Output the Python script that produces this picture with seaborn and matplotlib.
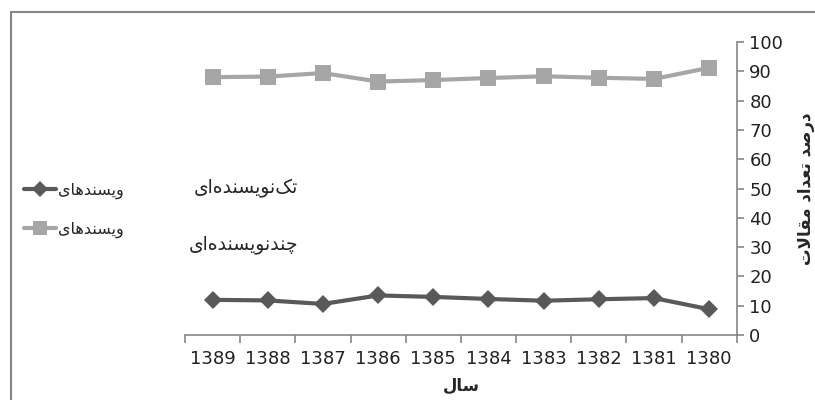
import numpy as np
import pandas as pd
import matplotlib
matplotlib.use('Agg')
import matplotlib.pyplot as plt
import seaborn as sns
from matplotlib.lines import Line2D
from matplotlib.patches import Rectangle

# داده ها
years = ['1389', '1388', '1387', '1386', '1385', '1384', '1383', '1382', '1381', '1380']
single_author = [12.0, 11.8, 10.6, 13.5, 13.0, 12.3, 11.7, 12.2, 12.6, 8.8]
multi_author = [88.0, 88.2, 89.4, 86.5, 87.0, 87.7, 88.3, 87.8, 87.4, 91.2]
yticks = list(range(0, 101, 10))

# matplotlib does no arabic shaping, so pick presentation forms by hand
FORMS = {
    'ا': ('\uFE8D', '\uFE8E', None, None),
    'ت': ('\uFE95', '\uFE96', '\uFE97', '\uFE98'),
    'چ': ('\uFB7A', '\uFB7B', '\uFB7C', '\uFB7D'),
    'د': ('\uFEA9', '\uFEAA', None, None),
    'ر': ('\uFEAD', '\uFEAE', None, None),
    'س': ('\uFEB1', '\uFEB2', '\uFEB3', '\uFEB4'),
    'ص': ('\uFEB9', '\uFEBA', '\uFEBB', '\uFEBC'),
    'ع': ('\uFEC9', '\uFECA', '\uFECB', '\uFECC'),
    'ق': ('\uFED5', '\uFED6', '\uFED7', '\uFED8'),
    'ک': ('\uFB8E', '\uFB8F', '\uFB90', '\uFB91'),
    'ل': ('\uFEDD', '\uFEDE', '\uFEDF', '\uFEE0'),
    'م': ('\uFEE1', '\uFEE2', '\uFEE3', '\uFEE4'),
    'ن': ('\uFEE5', '\uFEE6', '\uFEE7', '\uFEE8'),
    'ه': ('\uFEE9', '\uFEEA', '\uFEEB', '\uFEEC'),
    'و': ('\uFEED', '\uFEEE', None, None),
    'ی': ('\uFBFC', '\uFBFD', '\uFBFE', '\uFBFF'),
}


def dual(c):
    return c in FORMS and FORMS[c][2] is not None


def fa(s):
    out = []
    i = 0
    while i < len(s):
        c = s[i]
        if c == '\u200c':
            i += 1
            continue
        if c not in FORMS:
            out.append(c)
            i += 1
            continue
        prev = s[i - 1] if i > 0 else None
        nxt = s[i + 1] if i + 1 < len(s) else None
        p = dual(prev)
        if c == 'ل' and nxt == 'ا':
            out.append('\uFEFC' if p else '\uFEFB')
            i += 2
            continue
        n = dual(c) and nxt in FORMS
        iso, fin, ini, med = FORMS[c]
        if p and n:
            out.append(med)
        elif p:
            out.append(fin)
        elif n:
            out.append(ini)
        else:
            out.append(iso)
        i += 1
    return ''.join(reversed(out))


df = pd.DataFrame({'year': years * 2,
                   'value': single_author + multi_author,
                   'series': ['single'] * len(years) + ['multi'] * len(years)})

sns.set_style('white')
plt.rcParams['font.family'] = ['DejaVu Sans']

dark = '#595959'
light = '#a6a6a6'

fig = plt.figure(figsize=(8.15, 4), dpi=100)
ax = fig.add_axes([0.227, 0.1625, 0.677, 0.7325])

sns.lineplot(data=df[df.series == 'multi'], x='year', y='value', ax=ax, color=light,
             lw=3, marker='s', markersize=12, markeredgewidth=0, sort=False)
sns.lineplot(data=df[df.series == 'single'], x='year', y='value', ax=ax, color=dark,
             lw=3, marker='D', markersize=9, markeredgewidth=0, sort=False)

ax.set_xlim(-0.5, len(years) - 0.5)
ax.set_ylim(0, 100)
ax.yaxis.tick_right()
ax.yaxis.set_label_position('right')
ax.set_yticks(yticks)
ax.tick_params(axis='y', which='major', right=True, length=5, width=1.2, color='#868686',
               direction='out', labelsize=13, pad=4, labelcolor='#222222')
ax.set_xticks(range(len(years)))
ax.set_xticks(np.arange(-0.5, len(years), 1), minor=True)
ax.tick_params(axis='x', which='major', bottom=True, length=0, labelsize=13, pad=11,
               labelcolor='#222222')
ax.tick_params(axis='x', which='minor', bottom=True, length=6, width=1.2, color='#868686',
               direction='out')

for side in ['top', 'left']:
    ax.spines[side].set_visible(False)
for side in ['right', 'bottom']:
    ax.spines[side].set_color('#868686')
    ax.spines[side].set_linewidth(1.2)

ax.set_xlabel(fa('سال'), fontsize=12, fontweight='bold', labelpad=6)
ax.set_ylabel(fa('درصد تعداد مقالات'), fontsize=12, fontweight='bold', rotation=90, labelpad=10)

# legend (cut off as in the original)
handles = [Line2D([], [], color=dark, lw=3, marker='D', markersize=8, markeredgewidth=0),
           Line2D([], [], color=light, lw=3, marker='s', markersize=10, markeredgewidth=0)]
fig.legend(handles, [fa('ویسندهای'), fa('ویسندهای')], loc='upper left',
           bbox_to_anchor=(0.012, 0.58), frameon=False, fontsize=11.5,
           handlelength=2.0, handletextpad=0.15, labelspacing=1.45)

fig.text(0.302, 0.53, fa('تک\u200cنویسنده\u200cای'), fontsize=13.5, ha='center', va='center')
fig.text(0.299, 0.39, fa('چندنویسنده\u200cای'), fontsize=13.5, ha='center', va='center')

fig.add_artist(Rectangle((0.0135, -0.1), 1.2, 1.07, fill=False, ec='#868686', lw=1.5,
                         transform=fig.transFigure))

fig.savefig('out.png', dpi=100)
